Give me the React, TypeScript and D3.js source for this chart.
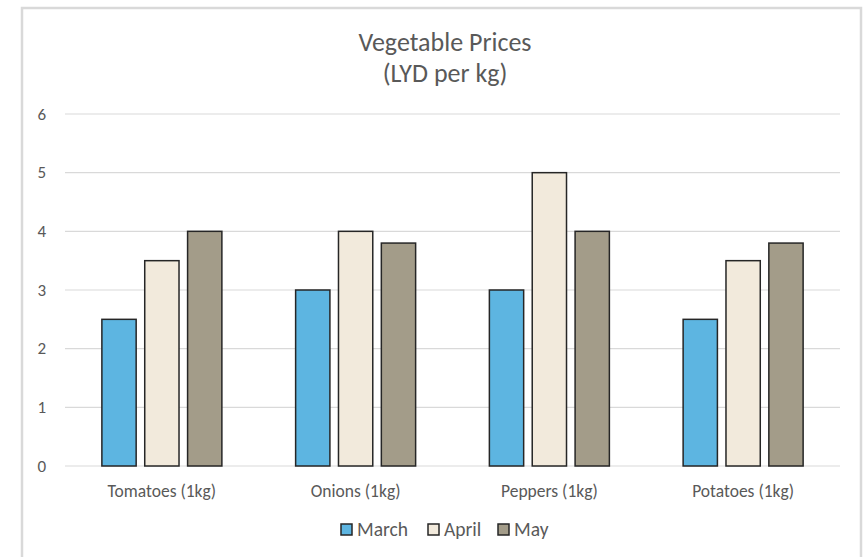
import React from "react";
import * as d3 from "d3";

const categories = ["Tomatoes (1kg)", "Onions (1kg)", "Peppers (1kg)", "Potatoes (1kg)"];
const seriesNames = ["March", "April", "May"];
const march = [2.5, 3, 3, 2.5];
const april = [3.5, 4, 5, 3.5];
const may = [4, 3.8, 4, 3.8];
const yTicks = [0, 1, 2, 3, 4, 5, 6];

const colors = ["#5db5e1", "#f2eadc", "#a39c89"];
const font = "Carlito, 'Liberation Sans Narrow', 'Open Sans', sans-serif";

const width = 863;
const height = 557;
const plot = { left: 65, right: 840, top: 114, bottom: 466 };

export default function App() {
    const series = [march, april, may];

    const x = d3.scaleBand()
        .domain(categories)
        .range([plot.left, plot.right])
        .paddingInner(0)
        .paddingOuter(0);

    const inner = d3.scaleBand()
        .domain(seriesNames)
        .range([0, 120])
        .paddingInner(0.2);

    const y = d3.scaleLinear()
        .domain([0, 6])
        .range([plot.bottom, plot.top]);

    const groupOffset = (x.bandwidth() - 120) / 2;

    const legendX = [340, 427, 497];

    return (
        <svg width={width} height={height} style={{ position: "absolute", left: 0, top: 0, background: "#fff" }}>
            <rect x={22} y={8} width={839} height={600} fill="#fff" stroke="#d9d9d9" strokeWidth={2.5} />

            <text x={445} y={51} textAnchor="middle" fontFamily={font} fontSize={26} fill="#595959">Vegetable Prices</text>
            <text x={445} y={82} textAnchor="middle" fontFamily={font} fontSize={26} fill="#595959">(LYD per kg)</text>

            {yTicks.map(t => (
                <g key={t}>
                    <line x1={plot.left} x2={plot.right} y1={y(t)} y2={y(t)} stroke="#d9d9d9" strokeWidth={1.2} />
                    <text x={46} y={y(t) + 5.5} textAnchor="end" fontFamily={font} fontSize={17} fill="#595959">{t}</text>
                </g>
            ))}

            {categories.map((c, i) => (
                <g key={c} transform={`translate(${(x(c) ?? 0) + groupOffset},0)`}>
                    {series.map((s, j) => (
                        <rect key={j}
                            x={inner(seriesNames[j]) ?? 0}
                            y={y(s[i])}
                            width={inner.bandwidth()}
                            height={y(0) - y(s[i])}
                            fill={colors[j]}
                            stroke="#262626"
                            strokeWidth={1.5} />
                    ))}
                </g>
            ))}

            {categories.map(c => (
                <text key={c} x={(x(c) ?? 0) + x.bandwidth() / 2} y={497} textAnchor="middle"
                    fontFamily={font} fontSize={17.5} fill="#595959">{c}</text>
            ))}

            {seriesNames.map((n, j) => (
                <g key={n}>
                    <rect x={legendX[j] + 1} y={524} width={11} height={11} fill={colors[j]} stroke="#262626" strokeWidth={1.5} />
                    <text x={legendX[j] + 17} y={536} fontFamily={font} fontSize={19.5} fill="#595959">{n}</text>
                </g>
            ))}
        </svg>
    );
}
